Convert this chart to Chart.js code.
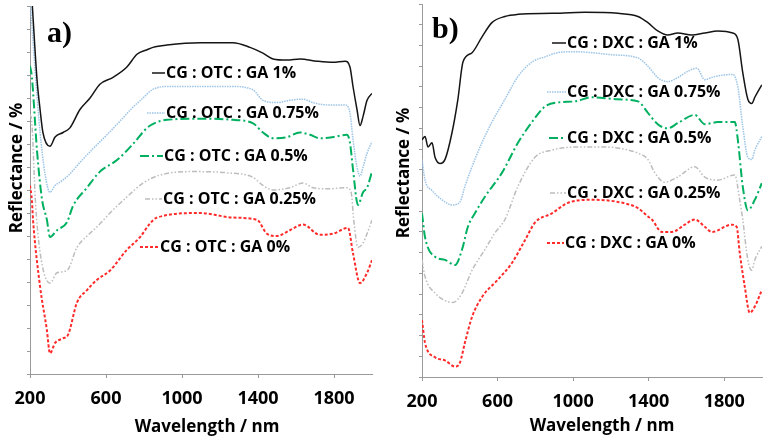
<!DOCTYPE html>
<html>
<head>
<meta charset="utf-8">
<script src="https://cdn.jsdelivr.net/npm/chart.js@4/dist/chart.umd.min.js"></script>
<style>
html,body{margin:0;padding:0;background:#fff;}
#wrap{position:relative;width:771px;height:443px;overflow:hidden;}
#ca{position:absolute;left:0;top:0;}
#cb{position:absolute;left:385px;top:0;}
</style>
</head>
<body>
<div id="wrap">
<canvas id="ca" width="385" height="443"></canvas>
<canvas id="cb" width="386" height="443"></canvas>
</div>
<script>
// ---------- data (wavelength in nm, reflectance in arbitrary offset units) ----------
const xTicks = [200, 600, 1000, 1400, 1800];
const xTitle = 'Wavelength / nm';
const yTitle = 'Reflectance / %';
const labelsA = ['CG : OTC : GA 1%', 'CG : OTC : GA 0.75%', 'CG : OTC : GA 0.5%', 'CG : OTC : GA 0.25%', 'CG : OTC : GA 0%'];
const labelsB = ['CG : DXC : GA 1%', 'CG : DXC : GA 0.75%', 'CG : DXC : GA 0.5%', 'CG : DXC : GA 0.25%', 'CG : DXC : GA 0%'];

// Panel a
const aWl100 = [200,210,237,253,268,305,332,374,410,463,516,568,637,710,763,816,847,921,1095,1268,1358,1426,1479,1553,1621,1711,1795,1858,1884,1900,1921,1937,1953,1974,2000];
const aR100  = [17.5,16.3,12.8,11.5,10.5,9.9,10.3,10.5,10.7,11.5,12.0,12.6,12.9,13.35,13.9,14.1,14.2,14.3,14.4,14.4,14.2,13.95,13.7,13.65,13.7,13.6,13.55,13.6,13.35,12.5,11.5,10.8,11.2,11.9,12.2];
const aWl075 = [200,205,226,253,279,305,332,368,410,463,532,605,674,742,795,842,921,1095,1268,1374,1426,1500,1568,1637,1689,1763,1858,1884,1900,1921,1937,1953,1974,2000];
const aR075  = [16.5,15.8,13.3,10.5,8.7,7.9,8.2,8.4,8.7,9.2,9.8,10.4,11.0,11.6,12.0,12.35,12.5,12.5,12.5,12.35,11.9,11.8,11.9,11.95,11.8,11.7,11.7,11.35,10.2,9.0,8.6,9.0,9.6,10.1];
const aWl050 = [200,210,237,263,289,305,342,395,426,500,568,658,742,816,868,921,1095,1268,1374,1426,1479,1553,1621,1674,1726,1795,1868,1884,1900,1926,1953,1974,2000];
const aR050  = [13.4,12.9,9.7,7.6,6.7,5.95,6.25,6.6,7.3,8.1,8.8,9.3,10.0,10.7,10.95,11.05,11.1,11.05,10.9,10.5,10.25,10.3,10.5,10.4,10.25,10.3,10.4,10.05,8.9,7.35,7.9,8.1,8.8];
const aWl025 = [200,210,228,253,305,342,395,447,500,553,621,710,795,884,1058,1237,1374,1426,1479,1568,1637,1689,1763,1868,1890,1905,1926,1953,1974,2000];
const aR025  = [11.3,10.9,7.6,5.3,3.95,4.4,4.5,5.5,6.0,6.4,7.0,7.7,8.3,8.65,8.8,8.75,8.55,8.2,8.0,8.1,8.3,8.1,8.05,8.1,7.9,6.6,5.5,5.7,6.1,6.7];
const aWl000 = [200,210,216,253,289,305,332,374,400,447,500,553,621,710,779,832,868,1095,1268,1395,1447,1500,1568,1637,1726,1795,1874,1900,1937,1974,2000];
const aR000  = [8.2,7.55,6.7,3.8,1.9,0.9,1.35,1.55,1.7,3.1,3.65,4.1,4.5,5.4,5.95,6.55,6.8,7.0,6.8,6.7,6.1,6.0,6.25,6.5,6.05,6.1,6.35,5.25,3.95,4.4,4.95];

// Panel b
const bWl100 = [200,216,232,253,269,295,322,359,390,417,465,517,570,639,708,888,1062,1237,1343,1396,1448,1501,1554,1628,1697,1766,1845,1872,1898,1925,1946,1962,1999];
const bR100  = [11.45,11.6,11.1,11.3,10.6,10.3,10.5,11.8,13.4,15.2,15.65,16.4,17.1,17.4,17.5,17.55,17.6,17.55,17.4,17.1,16.7,16.5,16.6,16.5,16.6,16.7,16.6,16.3,14.7,13.4,13.2,13.5,14.1];
const bWl075 = [200,216,253,306,359,401,427,465,517,570,639,708,782,851,919,1009,1099,1205,1343,1396,1448,1501,1554,1607,1655,1697,1750,1845,1872,1898,1925,1946,1962,1999];
const bR075  = [10.5,9.5,9.0,8.55,8.3,8.45,9.2,10.15,11.3,12.3,13.4,14.5,15.2,15.45,15.65,15.7,15.65,15.55,15.4,15.0,14.45,14.25,14.45,14.75,14.9,14.35,14.5,14.6,14.0,12.1,10.6,10.5,10.95,11.6];
const bWl050 = [200,216,269,322,375,412,443,480,533,623,708,782,851,919,1009,1099,1237,1343,1396,1448,1501,1554,1644,1697,1766,1856,1872,1898,1925,1962,1999];
const bR050  = [7.9,6.75,5.8,5.65,5.4,6.15,7.25,7.9,8.7,9.85,11.3,12.3,13.05,13.25,13.3,13.5,13.4,13.3,12.75,12.2,12.0,12.25,12.65,12.2,12.3,12.3,11.45,9.2,8.05,8.55,9.35];
const bWl025 = [200,216,269,364,412,465,533,586,639,708,798,888,1025,1131,1237,1343,1396,1433,1485,1554,1644,1697,1766,1856,1882,1898,1925,1946,1962,1999];
const bR025  = [5.65,4.85,4.05,3.6,4.05,5.15,6.15,6.95,7.6,9.2,10.6,10.95,11.1,11.1,11.05,10.8,10.5,9.85,9.4,9.65,10.15,9.65,9.5,9.75,8.55,7.6,5.65,5.15,5.65,6.3];
const bWl000 = [200,216,269,322,375,401,427,465,517,602,676,745,798,888,972,1099,1237,1343,1396,1417,1470,1523,1591,1644,1697,1734,1840,1866,1882,1909,1935,1962,1999];
const bR000  = [2.75,1.65,0.95,0.8,0.5,0.7,1.65,2.9,3.85,4.7,5.5,6.6,7.45,7.9,8.4,8.55,8.45,8.15,7.75,7.6,7.0,7.0,7.35,7.6,7.25,7.0,7.35,7.25,6.0,4.35,3.1,3.4,4.2];

// ---------- styling ----------
const styles = [
  {borderColor:'#151515', borderWidth:1.5, borderDash:[]},
  {borderColor:'#9cc4e6', borderWidth:1.5, borderDash:[1.5,1]},
  {borderColor:'#00b060', borderWidth:2, borderDash:[9,3,2,3]},
  {borderColor:'#bdbdbd', borderWidth:1.5, borderDash:[5,2,1.5,2,1.5,2]},
  {borderColor:'#ff2b2b', borderWidth:2, borderDash:[3,2]}
];
const pts = (xs, ys) => xs.map((x, i) => ({x: x, y: ys[i]}));
function makeSets(labels, series) {
  return series.map((s, i) => Object.assign({
    label: labels[i], data: pts(s[0], s[1]), pointRadius: 0, tension: 0.25,
    cubicInterpolationMode: 'monotone', fill: false
  }, styles[i]));
}

const FONT = '"Open Sans", "DejaVu Sans", sans-serif';
const textPlugin = {
  id: 'texts',
  afterDatasetsDraw(chart, args, o) {
    const ctx = chart.ctx;
    ctx.save();
    ctx.fillStyle = '#000';
    // panel label
    ctx.font = 'bold 30px "Liberation Serif", serif';
    ctx.textAlign = 'left'; ctx.textBaseline = 'alphabetic';
    ctx.fillText(o.panel, o.panelX, o.panelY);
    // y title
    ctx.save();
    ctx.translate(o.yTitleX, o.yTitleY);
    ctx.rotate(-Math.PI / 2);
    ctx.font = 'bold 17px ' + FONT;
    ctx.textAlign = 'center'; ctx.textBaseline = 'middle';
    ctx.fillText(yTitle, 0, 0);
    ctx.restore();
    // x title
    ctx.font = 'bold 17px ' + FONT;
    ctx.textAlign = 'center'; ctx.textBaseline = 'middle';
    ctx.fillText(xTitle, o.xTitleX, o.xTitleY);
    // inline legend
    chart.data.datasets.forEach((ds, i) => {
      const p = o.legend[i];
      ctx.strokeStyle = ds.borderColor;
      ctx.lineWidth = ds.borderWidth;
      ctx.setLineDash(ds.borderDash || []);
      ctx.beginPath(); ctx.moveTo(p[0], p[2]); ctx.lineTo(p[1], p[2]); ctx.stroke();
      ctx.setLineDash([]);
      ctx.font = 'bold 16px ' + FONT;
      ctx.textAlign = 'left'; ctx.textBaseline = 'middle';
      ctx.fillStyle = '#000';
      ctx.fillText(ds.label, p[1] + 1, p[2]);
    });
    ctx.restore();
  }
};

function makeChart(id, labels, series, yMax, yW, xH, pad, o) {
  return new Chart(document.getElementById(id), {
    type: 'line',
    data: {datasets: makeSets(labels, series)},
    plugins: [textPlugin],
    options: {
      responsive: false, animation: false, devicePixelRatio: 1,
      layout: {padding: pad},
      plugins: {legend: {display: false}, tooltip: {enabled: false}, texts: o},
      scales: {
        x: {
          type: 'linear', min: 200, max: 2000,
          afterBuildTicks: s => { s.ticks = xTicks.map(v => ({value: v})); },
          afterFit: s => { s.height = xH; },
          grid: {display: true, drawOnChartArea: false, drawTicks: true, tickLength: 4, color: '#9a9a9a'},
          border: {display: true, color: '#9a9a9a', width: 1},
          ticks: {color: '#000', font: {family: FONT, size: 18, weight: 'bold'}, padding: 10, maxRotation: 0, autoSkip: false,
                  callback: v => String(v)}
        },
        y: {
          type: 'linear', min: 0, max: yMax,
          ticks: {display: false, stepSize: 1},
          afterFit: s => { s.width = yW; },
          grid: {display: true, drawOnChartArea: false, drawTicks: true, tickLength: 3, color: '#9a9a9a'},
          border: {display: true, color: '#9a9a9a', width: 1}
        }
      }
    }
  });
}

makeChart('ca', labelsA,
  [[aWl100, aR100], [aWl075, aR075], [aWl050, aR050], [aWl025, aR025], [aWl000, aR000]],
  16, 30, 69, {top: 6, right: 13, left: 0, bottom: 0},
  {panel: 'a)', panelX: 47, panelY: 42, yTitleX: 17, yTitleY: 168, xTitleX: 207, xTitleY: 427,
   legend: [[152,165,73],[147,165,113],[140,163,156],[145,162,199],[140,159,247]]});

makeChart('cb', labelsB,
  [[bWl100, bR100], [bWl075, bR075], [bWl050, bR050], [bWl025, bR025], [bWl000, bR000]],
  18, 37, 66, {top: 4, right: 9, left: 0, bottom: 0},
  {panel: 'b)', panelX: 47, panelY: 38, yTitleX: 19, yTitleY: 173, xTitleX: 217, xTitleY: 426,
   legend: [[167,181,43],[162,181,92],[164,181,138],[165,181,193],[162,179,243]]});
</script>
</body>
</html>
